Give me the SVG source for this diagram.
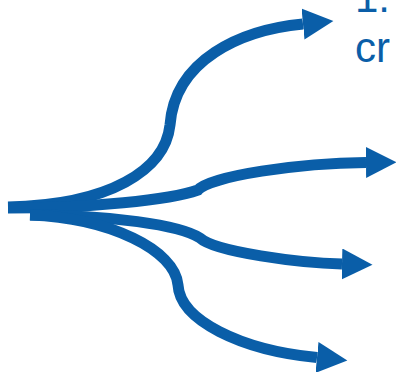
<svg xmlns="http://www.w3.org/2000/svg" width="396" height="372" viewBox="0 0 396 372">
<style>
.c{fill:none;stroke:#0A5EA8;stroke-width:11;stroke-linecap:butt}
.t{font-family:"Liberation Sans",Arial,sans-serif;font-size:42px;fill:#0A5EA8}
</style>
<defs>
<marker id="ah" markerUnits="userSpaceOnUse" markerWidth="32" markerHeight="32" refX="0" refY="15.5" orient="auto" viewBox="0 0 32 32">
<path d="M0,0 L30.5,15.5 L0,31 z" fill="#0A5EA8"/>
</marker>
</defs>
<g id="connectors">
<path class="c" marker-end="url(#ah)" d="M 8 207 C 110 205, 165 170, 170 125 C 175 60, 240 30, 303 24"/>
<path class="c" marker-end="url(#ah)" d="M 8 208 C 90 208, 170 200, 198 190 C 210 176, 300 163, 366 162.5"/>
<path class="c" marker-end="url(#ah)" d="M 30 215 C 110 215, 180 225, 200 238 C 215 252, 300 263, 342 264"/>
<path class="c" marker-end="url(#ah)" d="M 30 215 C 110 218, 175 250, 178 285 C 180 320, 240 350, 317 357.5"/>
</g>
<g id="label">
<text class="t" x="355" y="12">1.</text>
<text class="t" x="355" y="62">cr</text>
</g>
</svg>
